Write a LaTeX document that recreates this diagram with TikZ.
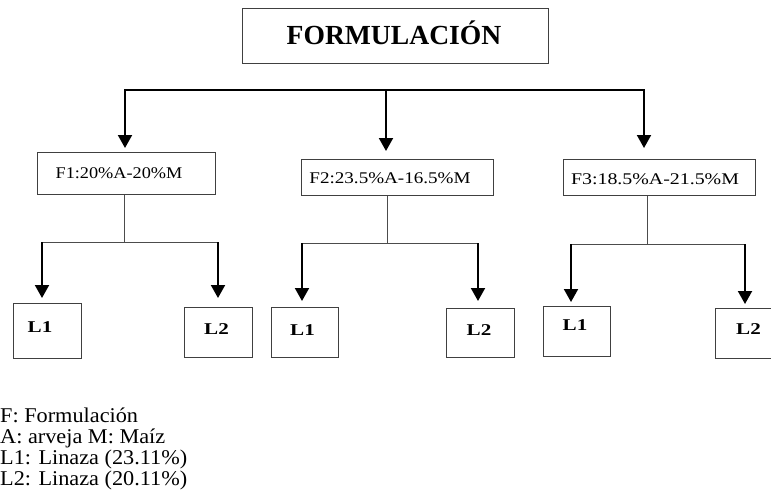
\documentclass[tikz,border=0pt]{standalone}
\usepackage{fontspec}
\setmainfont{Liberation Serif}
\usepackage{graphicx}
\usetikzlibrary{arrows.meta}
\begin{document}
\begin{tikzpicture}[x=1pt,y=-1pt,
  box/.style={draw=black!75, line width=1pt, inner sep=0pt, rectangle},
  ftext/.style={inner sep=0pt, font=\fontsize{16.3}{18}\selectfont},
  ltext/.style={inner sep=0pt, font=\fontsize{16.5}{18}\selectfont\bfseries},
  legtext/.style={inner sep=0pt, anchor=base west, font=\fontsize{21}{24}\selectfont},
  arr/.style={line width=2pt, black, -{Triangle[width=14pt,length=13pt]}},
  thinline/.style={line width=1pt, black!70}
]
\useasboundingbox (0,0) rectangle (771,503);

% top box
\node[box, minimum width=306pt, minimum height=55pt] (top) at (395,36.5) {};
\node[inner sep=0pt, font=\fontsize{27.6}{30}\selectfont\bfseries] (toptext) at (394,33) {FORMULACIÓN};

% F boxes
\node[box, minimum width=178pt, minimum height=42pt] (f1) at (126,173) {};
\node[ftext] (f1t) at (119,173) {\scalebox{1.12}[1]{F1:20\%A-20\%M}};
\node[box, minimum width=192pt, minimum height=36pt] (f2) at (397,177) {};
\node[ftext] (f2t) at (390,178.5) {\scalebox{1.17}[1]{F2:23.5\%A-16.5\%M}};
\node[box, minimum width=192pt, minimum height=36pt] (f3) at (659,177) {};
\node[ftext] (f3t) at (655,179) {\scalebox{1.22}[1]{F3:18.5\%A-21.5\%M}};

% top distribution
\coordinate (hl) at (125,90);
\coordinate (hm) at (386,90);
\coordinate (hr) at (644,90);
\coordinate (a1) at (125,148);
\coordinate (a2) at (386,151);
\coordinate (a3) at (644,148);
\draw[arr] (hm) -- (hl) -- (a1);
\draw[arr] (hm) -- (hr) -- (a3);
\draw[arr] (hm) -- (a2);

% L boxes
\node[box, minimum width=68pt, minimum height=55pt] (l11) at (47,330.5) {};
\node[ltext] (l11t) at (40,327) {\scalebox{1.28}[1]{L1}};
\node[box, minimum width=68pt, minimum height=50pt] (l12) at (218,332) {};
\node[ltext] (l12t) at (216.5,329.5) {\scalebox{1.28}[1]{L2}};
\node[box, minimum width=67pt, minimum height=50pt] (l21) at (304.5,332) {};
\node[ltext] (l21t) at (302.5,330) {\scalebox{1.28}[1]{L1}};
\node[box, minimum width=68pt, minimum height=49pt] (l22) at (480,332.5) {};
\node[ltext] (l22t) at (479,330) {\scalebox{1.28}[1]{L2}};
\node[box, minimum width=67pt, minimum height=50pt] (l31) at (576.5,331) {};
\node[ltext] (l31t) at (575,325) {\scalebox{1.28}[1]{L1}};
\node[box, minimum width=58pt, minimum height=50pt] (l32) at (744,333) {};
\node[ltext] (l32t) at (748.5,329.5) {\scalebox{1.28}[1]{L2}};

% branch F1
\coordinate (s1) at (124,242);
\coordinate (b1l) at (42,242);
\coordinate (b1r) at (218,242);
\coordinate (t11) at (42,298);
\coordinate (t12) at (218,298);
\draw[thinline] (f1.south -| s1) -- (s1);
\draw[thinline] (b1l) -- (b1r);
\draw[arr] (b1l) -- (t11);
\draw[arr] (b1r) -- (t12);

% branch F2
\coordinate (s2) at (387,243);
\coordinate (b2l) at (302,243);
\coordinate (b2r) at (478,243);
\coordinate (t21) at (302,301);
\coordinate (t22) at (478,301);
\draw[thinline] (f2.south -| s2) -- (s2);
\draw[thinline] (b2l) -- (b2r);
\draw[arr] (b2l) -- (t21);
\draw[arr] (b2r) -- (t22);

% branch F3
\coordinate (s3) at (647,244);
\coordinate (b3l) at (571,244);
\coordinate (b3r) at (745,244);
\coordinate (t31) at (571,302);
\coordinate (t32) at (745,304);
\draw[thinline] (f3.south -| s3) -- (s3);
\draw[thinline] (b3l) -- (b3r);
\draw[arr] (b3l) -- (t31);
\draw[arr] (b3r) -- (t32);

% legend
\node[legtext] (leg1) at (0,422) {\scalebox{1.06}[1]{F: Formulación}};
\node[legtext] (leg2) at (0,443) {\scalebox{1.06}[1]{A: arveja M: Maíz}};
\node[legtext] (leg3) at (0,464) {\scalebox{1.06}[1]{L1: Linaza (23.11\%)}};
\node[legtext] (leg4) at (0,485) {\scalebox{1.06}[1]{L2: Linaza (20.11\%)}};
\end{tikzpicture}
\end{document}
